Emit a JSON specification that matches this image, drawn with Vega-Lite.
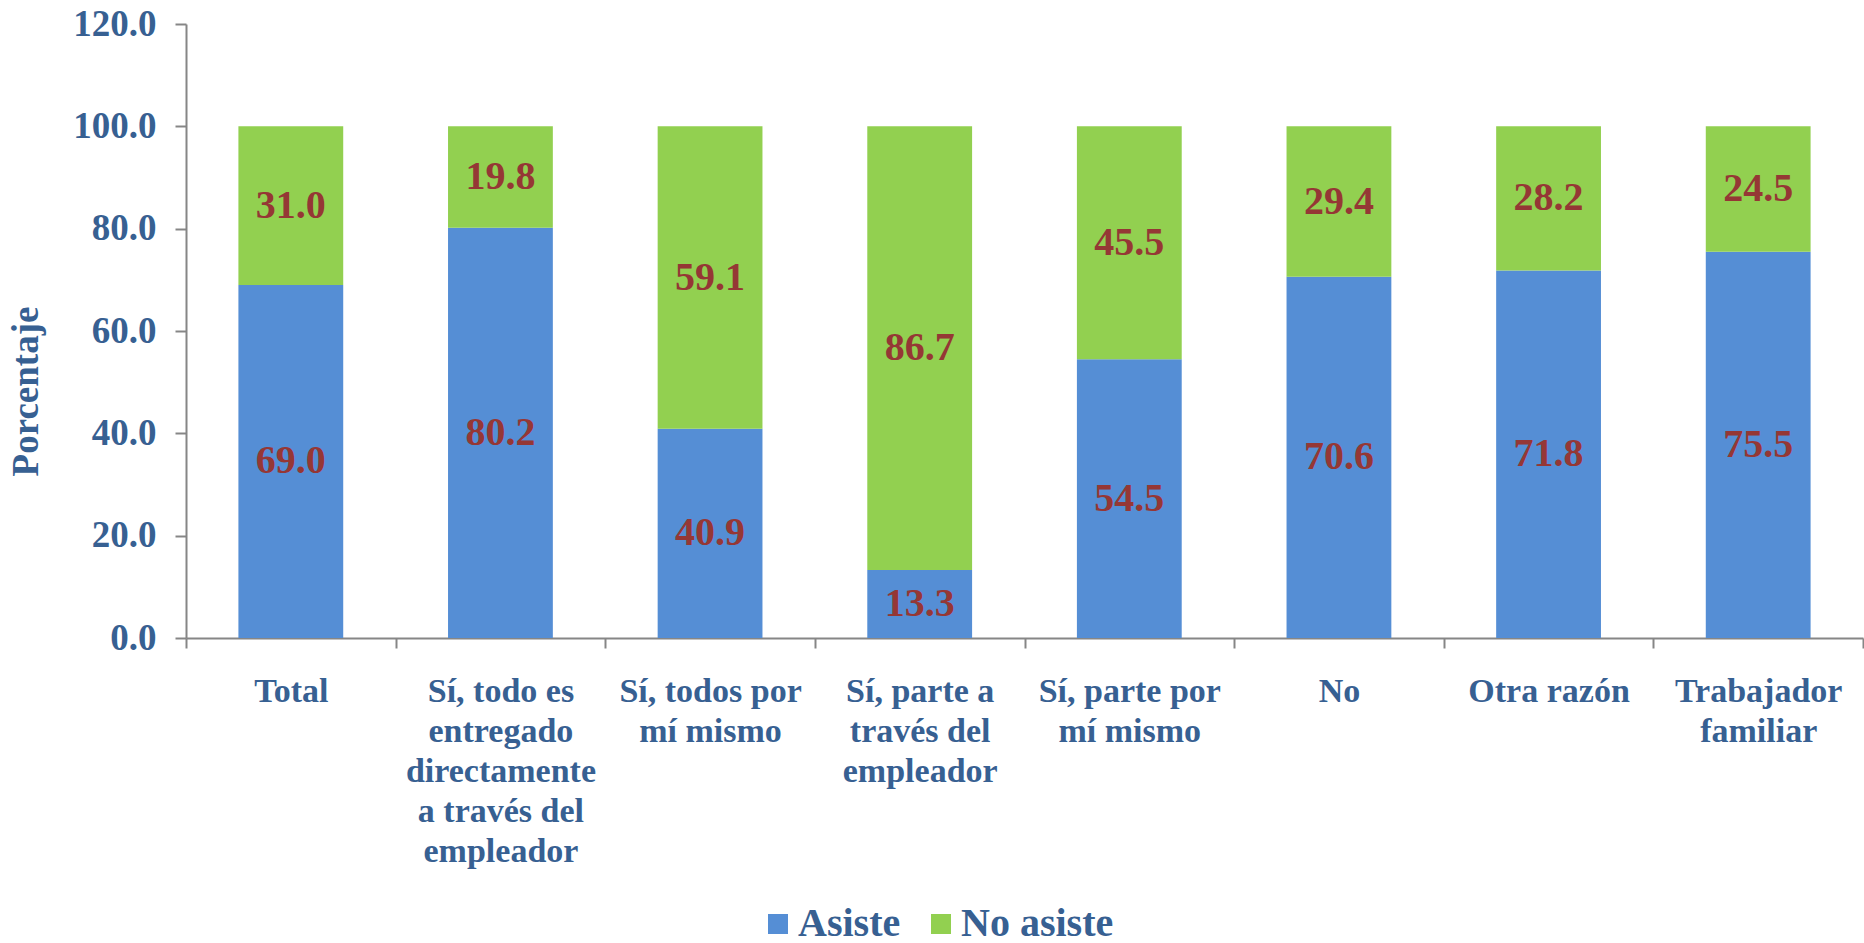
{
  "$schema": "https://vega.github.io/schema/vega-lite/v6.json",
  "width": 1677,
  "height": 614,
  "autosize": {"type": "none"},
  "padding": {"left": 186, "top": 24, "right": 1, "bottom": 305},
  "background": "white",
  "config": {
    "view": {"stroke": null},
    "font": "Liberation Serif"
  },
  "data": {
    "values": [
      {"categoria": "Total", "serie": "Asiste", "valor": 69.0},
      {"categoria": "Total", "serie": "No asiste", "valor": 31.0},
      {"categoria": "Sí, todo es entregado directamente a través del empleador", "serie": "Asiste", "valor": 80.2},
      {"categoria": "Sí, todo es entregado directamente a través del empleador", "serie": "No asiste", "valor": 19.8},
      {"categoria": "Sí, todos por mí mismo", "serie": "Asiste", "valor": 40.9},
      {"categoria": "Sí, todos por mí mismo", "serie": "No asiste", "valor": 59.1},
      {"categoria": "Sí, parte a través del empleador", "serie": "Asiste", "valor": 13.3},
      {"categoria": "Sí, parte a través del empleador", "serie": "No asiste", "valor": 86.7},
      {"categoria": "Sí, parte por mí mismo", "serie": "Asiste", "valor": 54.5},
      {"categoria": "Sí, parte por mí mismo", "serie": "No asiste", "valor": 45.5},
      {"categoria": "No", "serie": "Asiste", "valor": 70.6},
      {"categoria": "No", "serie": "No asiste", "valor": 29.4},
      {"categoria": "Otra razón", "serie": "Asiste", "valor": 71.8},
      {"categoria": "Otra razón", "serie": "No asiste", "valor": 28.2},
      {"categoria": "Trabajador familiar", "serie": "Asiste", "valor": 75.5},
      {"categoria": "Trabajador familiar", "serie": "No asiste", "valor": 24.5}
    ]
  },
  "transform": [
    {"stack": "valor", "groupby": ["categoria"], "sort": [{"field": "serie", "order": "ascending"}], "as": ["v0", "v1"]},
    {"calculate": "(datum.v0 + datum.v1) / 2", "as": "vmid"}
  ],
  "encoding": {
    "x": {
      "field": "categoria",
      "type": "nominal",
      "sort": ["Total", "Sí, todo es entregado directamente a través del empleador", "Sí, todos por mí mismo", "Sí, parte a través del empleador", "Sí, parte por mí mismo", "No", "Otra razón", "Trabajador familiar"],
      "scale": {"paddingInner": 0, "paddingOuter": 0},
      "axis": {
        "title": null,
        "labelAngle": 0,
        "tickBand": "extent",
        "domainColor": "#868686",
        "domainWidth": 2,
        "tickColor": "#868686",
        "tickWidth": 2,
        "tickSize": 10,
        "labelPadding": 26,
        "labelBaseline": "top",
        "labelFont": "Liberation Serif",
        "labelFontWeight": "bold",
        "labelFontSize": 34,
        "labelLineHeight": 40,
        "labelColor": "#376092",
        "labelLimit": 400,
        "labelExpr": "datum.label == 'Sí, todo es entregado directamente a través del empleador' ? ['Sí, todo es','entregado','directamente','a través del','empleador'] : datum.label == 'Sí, todos por mí mismo' ? ['Sí, todos por','mí mismo'] : datum.label == 'Sí, parte a través del empleador' ? ['Sí, parte a','través del','empleador'] : datum.label == 'Sí, parte por mí mismo' ? ['Sí, parte por','mí mismo'] : datum.label == 'Trabajador familiar' ? ['Trabajador','familiar'] : datum.label"
      }
    }
  },
  "layer": [
    {
      "mark": {"type": "bar", "width": {"band": 0.5}},
      "encoding": {
        "y": {
          "field": "v0",
          "type": "quantitative",
          "scale": {"domain": [0, 120]},
          "axis": {
            "title": "Porcentaje",
            "values": [0, 20, 40, 60, 80, 100, 120],
            "format": ".1f",
            "grid": false,
            "domainColor": "#868686",
            "domainWidth": 2,
            "tickColor": "#868686",
            "tickWidth": 2,
            "tickSize": 11,
            "labelPadding": 19,
            "labelFont": "Liberation Serif",
            "labelFontWeight": "bold",
            "labelFontSize": 37,
            "labelColor": "#376092",
            "titleFont": "Liberation Serif",
            "titleFontWeight": "bold",
            "titleFontSize": 37,
            "titleColor": "#376092",
            "titleAngle": -90,
            "titleX": -160,
            "titleY": 367,
            "titleAlign": "center",
            "titleBaseline": "middle"
          }
        },
        "y2": {"field": "v1"},
        "color": {
          "field": "serie",
          "type": "nominal",
          "scale": {"domain": ["Asiste", "No asiste"], "range": ["#558ED5", "#92D050"]},
          "legend": {
            "title": null,
            "orient": "none",
            "direction": "horizontal",
            "legendX": 572,
            "legendY": 880,
            "symbolType": "square",
            "symbolSize": 400,
            "symbolStrokeWidth": 0,
            "symbolOpacity": 1,
            "labelFont": "Liberation Serif",
            "labelFontWeight": "bold",
            "labelFontSize": 40,
            "labelColor": "#376092",
            "labelOffset": 0,
            "labelLimit": 400,
            "columnPadding": 20
          }
        }
      }
    },
    {
      "mark": {"type": "text", "font": "Liberation Serif", "fontWeight": "bold", "fontSize": 40, "color": "#953735", "baseline": "middle", "align": "center"},
      "encoding": {
        "y": {"field": "vmid", "type": "quantitative"},
        "text": {"field": "valor", "type": "quantitative", "format": ".1f"}
      }
    }
  ]
}
